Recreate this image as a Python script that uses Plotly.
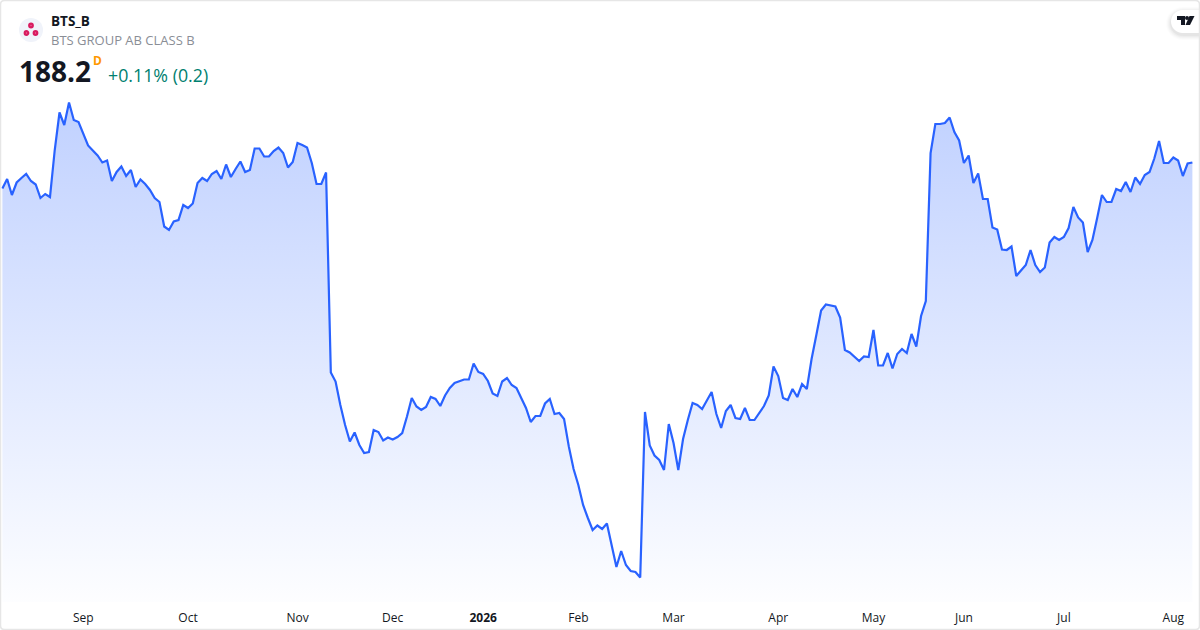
# Area chart of BTS_B daily closes, one trading day per point.
import plotly.graph_objects as go

closes = [
    183.0, 184.9, 181.7, 184.2, 185.1, 185.9, 184.5, 183.8, 181.1, 181.9,
    181.3, 190.7, 198.2, 195.7, 200.2, 196.7, 196.3, 194.1, 191.6, 190.6,
    189.6, 188.2, 188.6, 184.5, 186.3, 187.4, 185.5, 186.7, 183.3, 184.8,
    183.9, 182.7, 181.1, 180.3, 175.4, 174.7, 176.4, 176.7, 179.7, 179.1,
    180.0, 184.1, 185.1, 184.5, 185.9, 186.5, 184.9, 187.8, 185.3, 186.9,
    188.4, 186.3, 186.7, 191.0, 191.0, 189.4, 189.4, 190.5, 191.2, 190.1,
    187.2, 188.3, 192.1, 191.7, 191.2, 188.1, 183.9, 183.9, 186.2, 146.2,
    144.4, 139.7, 135.7, 132.4, 134.2, 131.7, 130.1, 130.3, 134.7, 134.3,
    132.6, 133.2, 132.8, 133.3, 134.1, 137.4, 141.1, 139.4, 138.7, 139.3,
    141.3, 140.9, 139.5, 141.6, 143.1, 144.1, 144.5, 144.8, 144.8, 148.0,
    146.3, 145.9, 144.5, 142.0, 141.5, 144.4, 145.1, 143.7, 143.1, 141.2,
    139.1, 136.3, 137.5, 137.5, 140.0, 140.9, 137.9, 138.1, 136.9, 131.4,
    126.9, 123.7, 119.7, 117.1, 114.7, 115.6, 114.9, 116.0, 111.4, 107.3,
    110.5, 107.7, 106.5, 106.3, 105.2, 138.3, 131.6, 129.6, 128.7, 126.7,
    135.9, 132.1, 126.7, 132.9, 136.7, 140.1, 139.7, 138.9, 140.6, 142.3,
    137.9, 135.1, 138.5, 139.7, 137.1, 136.9, 139.1, 136.7, 136.7, 138.2,
    139.5, 141.6, 147.4, 145.5, 141.1, 140.7, 142.9, 141.3, 143.9, 142.9,
    148.9, 153.7, 158.6, 159.8, 159.6, 159.4, 157.2, 150.7, 150.2, 149.4,
    148.5, 149.4, 149.3, 154.7, 147.6, 147.6, 150.1, 147.0, 149.9, 150.9,
    150.1, 153.9, 151.4, 157.5, 160.5, 190.1, 195.9, 195.9, 196.1, 197.2,
    194.3, 192.6, 188.1, 189.6, 184.1, 186.0, 180.9, 180.9, 175.2, 174.8,
    170.8, 170.7, 171.4, 165.5, 166.6, 167.7, 170.7, 167.7, 166.3, 167.2,
    172.2, 173.3, 172.7, 173.3, 175.1, 179.3, 177.2, 176.2, 170.3, 172.7,
    177.1, 181.7, 180.3, 180.3, 182.9, 182.5, 184.3, 182.3, 185.2, 183.9,
    185.7, 186.3, 189.0, 192.5, 188.1, 188.1, 189.2, 188.6, 185.5, 188.0,
    188.2,
]
days = list(range(len(closes)))

# first trading day of each month, as an index into closes
month_days = [17, 39, 62, 82, 101, 121, 141, 163, 183, 202, 223, 246]
month_labels = ['Sep', 'Oct', 'Nov', 'Dec', '<b>2026</b>', 'Feb', 'Mar', 'Apr', 'May', 'Jun', 'Jul', 'Aug']

W = 1200
H = 630
FONT = 'Open Sans'
LINE = '#2962ff'


def px(x):
    return x / W


def py(y):
    return 1 - y / H


def poly(points):
    # closed path from pixel points
    cmds = ['%s %f %f' % ('L' if i else 'M', px(x), py(y)) for i, (x, y) in enumerate(points)]
    return ' '.join(cmds) + ' Z'


def pill(x0, y0, y1):
    # left end rounded, runs off the right edge
    r = (y1 - y0) / 2
    k = r * 0.55
    xc = x0 + r
    ym = y0 + r
    return 'M %f %f L %f %f L %f %f L %f %f C %f %f %f %f %f %f C %f %f %f %f %f %f Z' % (
        px(xc), py(y0), 1, py(y0), 1, py(y1), px(xc), py(y1),
        px(xc - k), py(y1), px(x0), py(ym + k), px(x0), py(ym),
        px(x0), py(ym - k), px(xc - k), py(y0), px(xc), py(y0),
    )


def card(x0, y0, x1, y1, r):
    return ('M %f %f L %f %f Q %f %f %f %f L %f %f Q %f %f %f %f '
            'L %f %f Q %f %f %f %f L %f %f Q %f %f %f %f Z') % (
        px(x0 + r), py(y0), px(x1 - r), py(y0), px(x1), py(y0), px(x1), py(y0 + r),
        px(x1), py(y1 - r), px(x1), py(y1), px(x1 - r), py(y1),
        px(x0 + r), py(y1), px(x0), py(y1), px(x0), py(y1 - r),
        px(x0), py(y0 + r), px(x0), py(y0), px(x0 + r), py(y0),
    )


fig = go.Figure()
fig.add_trace(go.Scatter(
    x=days, y=closes, mode='lines', fill='tozeroy',
    line=dict(color=LINE, width=2.2),
    fillgradient=dict(
        type='vertical', start=220.7, stop=100.3,
        colorscale=[[0, 'rgba(41,98,255,0.35)'], [1, 'rgba(41,98,255,0.01)']],
    ),
    hoverinfo='skip',
))


def text(x, y, s, size, color, bold=False):
    fig.add_annotation(
        x=px(x), y=py(y), xref='paper', yref='paper', text='<b>%s</b>' % s if bold else s,
        showarrow=False, xanchor='left', yanchor='middle',
        font=dict(family=FONT, size=size, color=color),
        borderpad=0, borderwidth=0,
    )


def circle(cx, cy, r, fill, line=None, width=0):
    fig.add_shape(
        type='circle', xref='paper', yref='paper',
        x0=px(cx - r), x1=px(cx + r), y0=py(cy - r), y1=py(cy + r),
        fillcolor=fill, line=dict(color=line or fill, width=width),
    )


def path(d, fill):
    fig.add_shape(type='path', xref='paper', yref='paper', line_width=0, fillcolor=fill, path=d)


# header
text(51, 21, 'BTS_B', 13.5, '#131722', True)
text(51, 40, 'BTS GROUP AB CLASS B', 13, '#8a8e96')
text(19, 71, '188.2', 28, '#131722', True)
text(93, 61, 'D', 12, '#ff9800', True)
text(108, 75, '+0.11% (0.2)', 17.8, '#00806f')

# company logo
circle(31, 30, 12, '#f0f3fa')
circle(31, 25.5, 1.8, '#ef6c9c', '#d81b60', 2.2)
circle(26.5, 33, 1.8, '#ef6c9c', '#d81b60', 2.2)
circle(35.5, 33, 1.8, '#ef6c9c', '#d81b60', 2.2)

# tradingview badge, soft shadow then pill then glyph
for grow, alpha in [(5, 0.012), (4, 0.015), (3, 0.02), (2, 0.025), (1, 0.03)]:
    path(pill(1171 - grow, 10 - grow + 2, 33 + grow + 2), 'rgba(0,0,0,%s)' % alpha)
path(pill(1171, 10, 33), '#ffffff')
path(poly([(1177, 16), (1185, 16), (1185, 25), (1181, 25), (1181, 20), (1177, 20)]), '#131722')
circle(1187, 18, 2, '#131722')
path(poly([(1189.5, 16), (1194.5, 16), (1190, 25), (1185.5, 25)]), '#131722')

# card border
fig.add_shape(
    type='path', xref='paper', yref='paper', path=card(0.5, 0.5, 1199.5, 629.5, 4),
    line=dict(color='#e6e6e6', width=1.5), fillcolor='rgba(0,0,0,0)',
)

fig.update_layout(
    width=W, height=H, margin=dict(l=0, r=0, t=0, b=0),
    paper_bgcolor='#ffffff', plot_bgcolor='#ffffff', showlegend=False,
    font=dict(family=FONT, size=12, color='#131722'),
    xaxis=dict(
        range=[-0.5, 251.6], tickmode='array', tickvals=month_days, ticktext=month_labels,
        showgrid=False, zeroline=False, showline=False,
        ticks='outside', ticklen=5, tickcolor='rgba(0,0,0,0)',
        tickfont=dict(family=FONT, size=12, color='#131722'),
    ),
    yaxis=dict(
        range=[100.3, 220.7], domain=[28 / H, 1], visible=False, showgrid=False, zeroline=False,
    ),
)

fig.write_html('out.html', config={'displayModeBar': False},
               post_script="document.body.style.margin='0';")
